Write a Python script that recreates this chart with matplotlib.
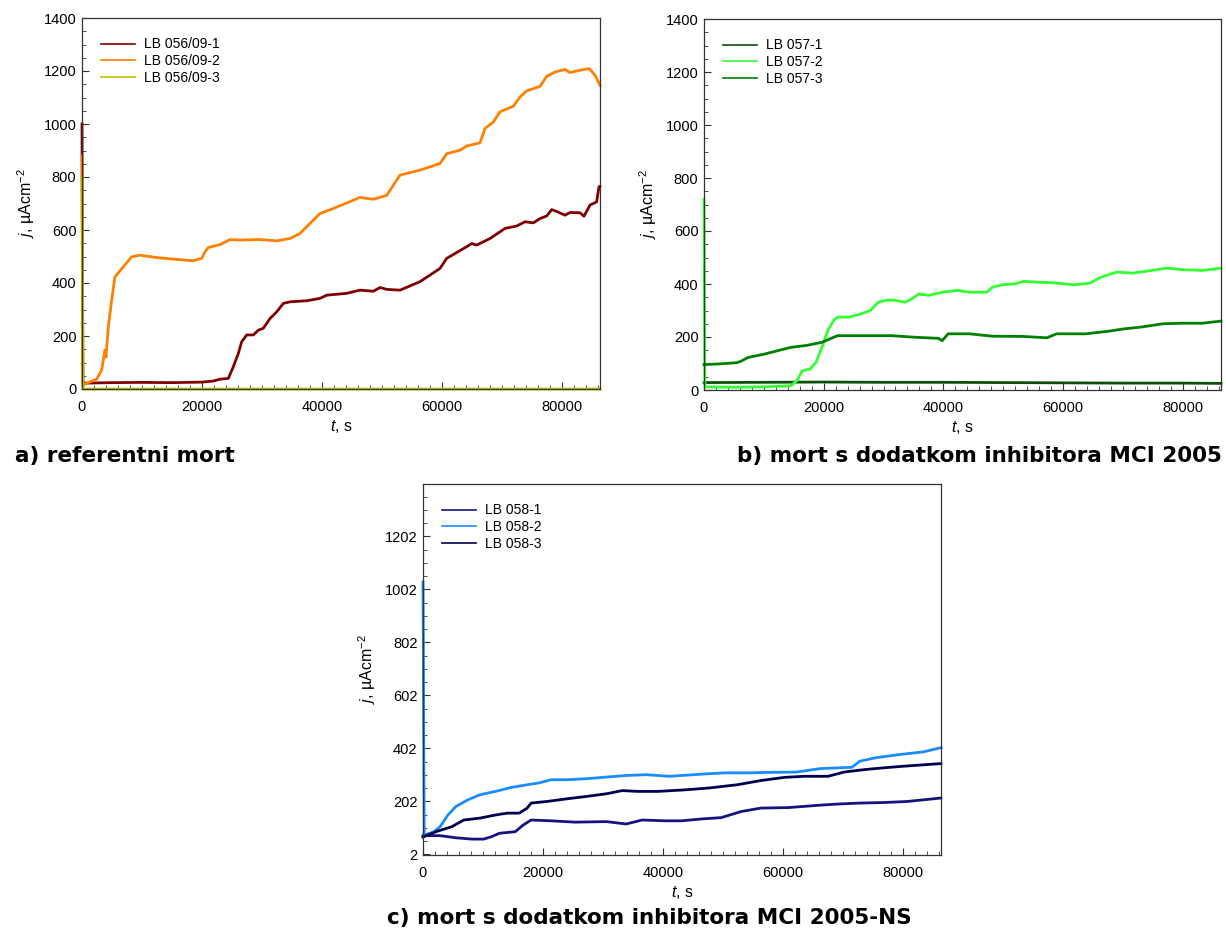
import matplotlib
matplotlib.use("Agg")
import matplotlib.pyplot as plt
from matplotlib.ticker import MultipleLocator
from matplotlib.lines import Line2D

plt.rcParams['font.family'] = ['Liberation Sans', 'DejaVu Sans']
plt.rcParams['mathtext.fontset'] = 'custom'
plt.rcParams['mathtext.rm'] = 'Liberation Sans'
plt.rcParams['mathtext.it'] = 'Liberation Sans:italic'

# a) referentni mort
t_a1 = [0, 150, 5000, 10000, 15000, 20000, 21900, 23020, 24410, 25240, 26070, 26630, 27470, 28580,
        29410, 30240, 31360, 32470, 33580, 34690, 37470, 39700, 40810, 44150, 46370, 48600, 49710,
        50820, 53040, 56380, 59710, 60830, 62500, 64170, 65000, 65830, 68060, 70560, 72500, 73890,
        75280, 76390, 77510, 78340, 79170, 80560, 81400, 83070, 83730, 84730, 85840, 86230, 86400]
j_a1 = [1000, 22, 24, 25, 24, 26, 30, 37, 40, 84, 134, 178, 204, 204,
        222, 229, 266, 291, 323, 329, 333, 342, 354, 361, 373, 369, 383,
        376, 373, 405, 455, 493, 515, 537, 549, 543, 568, 606, 615, 631,
        627, 643, 653, 677, 670, 656, 666, 665, 652, 694, 706, 763, 765]

t_a2 = [0, 150, 780, 2450, 3280, 3840, 4000, 4390, 4950, 5500, 6890, 8290, 9700, 12460, 15790,
        18570, 19960, 20520, 21070, 23020, 24690, 26350, 29690, 32470, 34690, 36360, 38030,
        39700, 41920, 44150, 46370, 48600, 50820, 53040, 56380, 59710, 60830, 63050, 64170,
        66390, 67220, 68610, 69720, 71940, 73060, 74170, 76390, 77510, 78900, 80560, 81400,
        83070, 84620, 85570, 86400]
j_a2 = [880, 12, 22, 37, 72, 147, 120, 235, 335, 423, 461, 499, 505, 496, 489,
        484, 493, 518, 534, 545, 564, 562, 564, 559, 568, 587, 625,
        662, 681, 702, 723, 716, 731, 807, 826, 851, 888, 901, 917,
        929, 983, 1008, 1046, 1067, 1102, 1125, 1142, 1180, 1196, 1206, 1194,
        1203, 1209, 1184, 1146]

t_a3 = [0, 150, 20000, 40000, 60000, 86400]
j_a3 = [800, 0, 0, 0, 0, 0]

# b) mort s dodatkom inhibitora MCI 2005
t_b1 = [0, 10000, 20000, 30000, 40000, 50000, 60000, 70000, 80000, 86400]
j_b1 = [28, 29, 30, 29, 29, 28, 27, 26, 26, 25]

t_b2 = [0, 150, 5000, 10000, 14520, 15500, 16470, 17760, 18740, 19710, 20680, 21650, 22300,
        24250, 26190, 27810, 29110, 30730, 32030, 33650, 34940, 35920, 37540, 39800, 42400,
        44340, 47260, 48230, 49850, 52120, 53420, 56010, 58610, 61850, 64440, 66390, 68980,
        71570, 74170, 77410, 80000, 83240, 86400]
j_b2 = [720, 12, 10, 12, 16, 35, 73, 79, 105, 161, 224, 262, 275,
        275, 287, 300, 331, 340, 338, 331, 347, 363, 357, 369, 376,
        369, 369, 388, 397, 401, 410, 407, 404, 397, 403, 426, 445,
        441, 449, 460, 454, 451, 460]

t_b3 = [0, 2200, 5500, 6100, 7390, 10000, 14520, 17110, 19710, 22300, 31380, 35270, 39160,
        39800, 40780, 44340, 48230, 53420, 57310, 58930, 63790, 67680, 70280, 72870, 76760,
        80000, 83240, 86400]
j_b3 = [96, 98, 103, 108, 123, 135, 161, 168, 180, 205, 205, 199, 195,
        186, 212, 212, 203, 202, 197, 212, 212, 222, 231, 237, 250,
        252, 252, 260]

# c) mort s dodatkom inhibitora MCI 2005-NS
t_c1 = [0, 2840, 5480, 8130, 10110, 11430, 12750, 15390, 16710, 18030, 21340, 25300, 30590,
        33890, 36530, 40490, 43140, 46440, 49740, 53050, 56350, 60970, 65600, 68900, 72870,
        76830, 80790, 86400]
j_c1 = [73, 73, 65, 60, 60, 69, 82, 88, 113, 132, 129, 124, 126,
        117, 132, 129, 129, 136, 141, 164, 177, 179, 187, 192, 196,
        198, 202, 215]

t_c2 = [0, 200, 1850, 2840, 4160, 5480, 7460, 9450, 12090, 14730, 17370, 19360, 21340, 23980,
        27280, 30590, 33890, 37190, 41160, 43800, 47100, 50400, 54370, 58330, 62290, 66260,
        71540, 72870, 75510, 79470, 83430, 86400]
j_c2 = [1030, 75, 88, 107, 151, 183, 208, 227, 240, 255, 265, 272, 284, 284,
        288, 294, 300, 303, 297, 301, 306, 310, 310, 312, 313, 326,
        331, 354, 367, 379, 389, 405]

t_c3 = [0, 2180, 4820, 6800, 9450, 12090, 14070, 16050, 17370, 18030, 20680, 23980, 27280,
        30590, 33230, 35870, 39170, 43800, 47760, 52390, 56350, 60310, 63620, 67580, 70220,
        73530, 76830, 80130, 86400]
j_c3 = [68, 88, 107, 132, 139, 151, 158, 158, 177, 196, 202, 212, 221,
        231, 243, 240, 240, 246, 253, 265, 281, 293, 297, 297, 313,
        322, 329, 335, 345]

labels_a = ['LB 056/09-1', 'LB 056/09-2', 'LB 056/09-3']
labels_b = ['LB 057-1', 'LB 057-2', 'LB 057-3']
labels_c = ['LB 058-1', 'LB 058-2', 'LB 058-3']
colors_a = ['#800000', '#ff8000', '#bfbf00']
colors_b = ['#0b4f0b', '#33ff33', '#008000']
colors_c = ['#141480', '#1a8cff', '#00004f']


# one panel with three curves
def panel(fig, rect, ts, js, labels, colors, y_offset=0):
    ax = fig.add_axes(rect)
    for t, j, c in zip(ts, js, colors):
        ax.plot(t, j, color=c, lw=2.0, clip_on=False)
    ax.set_xlim(0, 86400)
    ax.set_ylim(0, 1400)
    ax.xaxis.set_major_locator(MultipleLocator(20000))
    ax.xaxis.set_minor_locator(MultipleLocator(2000))
    ax.yaxis.set_major_locator(MultipleLocator(200, offset=y_offset))
    ax.yaxis.set_minor_locator(MultipleLocator(50, offset=y_offset))
    ax.tick_params(which='both', direction='in', top=False, right=False, labelsize=10.5, color='#333333')
    ax.tick_params(which='major', length=5, width=0.8)
    ax.tick_params(which='minor', length=3, width=0.6)
    ax.tick_params(axis='x', pad=8)
    ax.tick_params(axis='y', pad=4)
    for s in ax.spines.values():
        s.set_color('#333333')
        s.set_linewidth(0.9)
    ax.set_xlabel('$\\mathit{t}$, s', fontsize=11.5, labelpad=3)
    ax.set_ylabel('$\\mathit{j}$, µAcm$^{-2}$', fontsize=11.5, labelpad=5)
    handles = [Line2D([], [], color=c, lw=1.2) for c in colors]
    ax.legend(handles, labels, loc='upper left', frameon=False, fontsize=10,
              handlelength=2.4, handletextpad=0.65, labelspacing=0.2,
              borderaxespad=1.0)
    return ax


fig = plt.figure(figsize=(12.26, 9.33), dpi=100)

panel(fig, [82 / 1226, 1 - 389 / 933, 518 / 1226, 371 / 933],
      [t_a1, t_a2, t_a3], [j_a1, j_a2, j_a3], labels_a, colors_a)
panel(fig, [704 / 1226, 1 - 390 / 933, 517 / 1226, 371 / 933],
      [t_b1, t_b2, t_b3], [j_b1, j_b2, j_b3], labels_b, colors_b)
panel(fig, [423 / 1226, 1 - 855 / 933, 518 / 1226, 371 / 933],
      [t_c1, t_c2, t_c3], [j_c1, j_c2, j_c3], labels_c, colors_c, y_offset=2)

cap = dict(fontsize=15.5, fontweight='bold', family='DejaVu Sans', va='center')
fig.text(15 / 1226, 1 - 456 / 933, 'a) referentni mort', ha='left', **cap)
fig.text(1222 / 1226, 1 - 456 / 933, 'b) mort s dodatkom inhibitora MCI 2005', ha='right', **cap)
fig.text(649 / 1226, 1 - 918 / 933, 'c) mort s dodatkom inhibitora MCI 2005-NS', ha='center', **cap)

fig.savefig('out.png', dpi=100)
